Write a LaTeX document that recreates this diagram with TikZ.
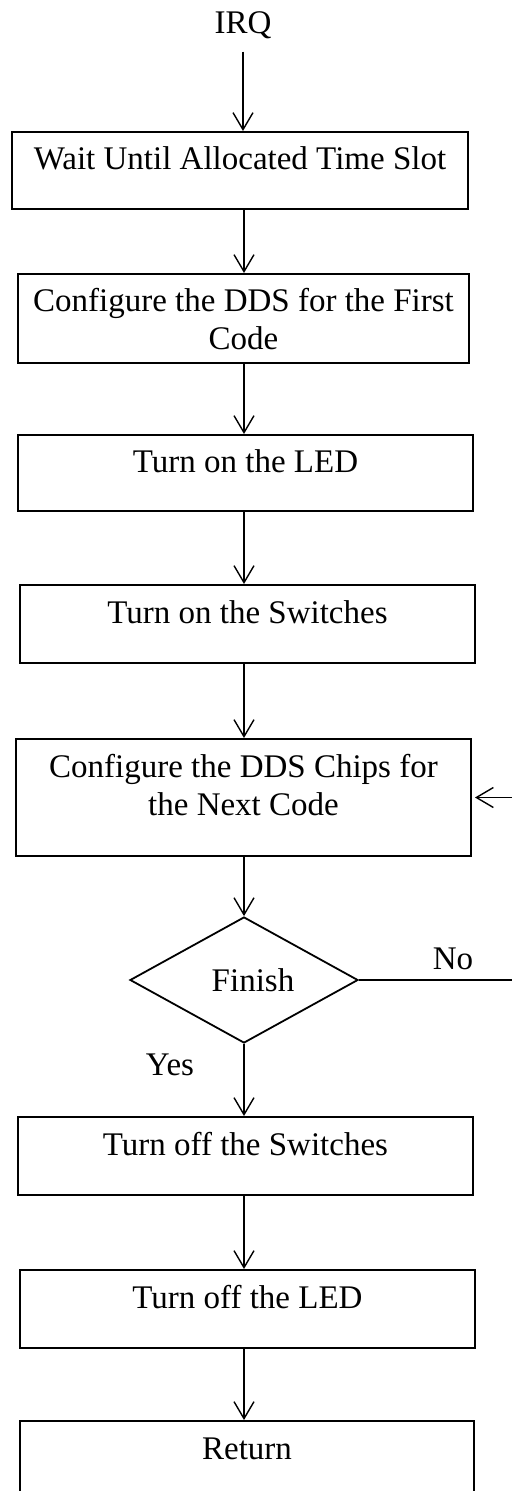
\documentclass[tikz,border=0pt]{standalone}
\usepackage{fontspec}
\setmainfont{Liberation Serif}
\usetikzlibrary{arrows.meta,shapes.geometric}

% box body: fixed width and height, text set from the top
\newcommand{\boxtext}[3]{\parbox[c][#2][t]{#1}{\centering\rule{0pt}{19pt}#3}}

\begin{document}
\begin{tikzpicture}[
  x=0.5pt, y=-0.5pt,
  every node/.style={font=\fontsize{16.5pt}{19pt}\selectfont},
  stepbox/.style={draw, line width=1pt, inner sep=0pt},
  decision/.style={draw, diamond, line width=0.9pt, inner sep=0pt,
                   minimum width=114pt, minimum height=63pt},
  tag/.style={inner sep=0pt, anchor=base},
  flow/.style={line width=0.7pt, -{Straight Barb[length=8.5pt, width=10pt, line width=0.7pt]}}
]
\useasboundingbox (0,0) rectangle (511,1491);

\coordinate (axis) at (244,0);
\coordinate (loop) at (516,0);

\node[tag] (irq) at (243,34) {IRQ};

\node[stepbox] (b1) at (240,170.5)  {\boxtext{228pt}{38.5pt}{Wait Until Allocated Time Slot}};
\node[stepbox] (b2) at (243.5,318.5) {\boxtext{225.5pt}{44.5pt}{Configure the DDS for the First\\Code}};
\node[stepbox] (b3) at (245.5,473)  {\boxtext{227.5pt}{38pt}{Turn on the LED}};
\node[stepbox] (b4) at (247.5,624)  {\boxtext{227.5pt}{39pt}{Turn on the Switches}};
\node[stepbox] (b5) at (243.5,797.5) {\boxtext{227.5pt}{58.5pt}{Configure the DDS Chips for\\the Next Code}};
\node[decision] (dec) at (244,980) {\hspace*{9pt}Finish};
\node[stepbox] (b6) at (245.5,1156) {\boxtext{227.5pt}{39pt}{Turn off the Switches}};
\node[stepbox] (b7) at (247.5,1309) {\boxtext{227.5pt}{39pt}{Turn off the LED}};
\node[stepbox] (b8) at (247,1460)   {\boxtext{227pt}{39pt}{Return}};

\node[tag] (no)  at (453,969)  {No};
\node[tag] (yes) at (170,1075) {Yes};

\draw[flow, shorten <=6pt] (irq.south) -- (irq.south |- b1.north);
\draw[flow] (b1.south -| axis) -- (b2.north -| axis);
\draw[flow] (b2.south -| axis) -- (b3.north -| axis);
\draw[flow] (b3.south -| axis) -- (b4.north -| axis);
\draw[flow] (b4.south -| axis) -- (b5.north -| axis);
\draw[flow] (b5.south -| axis) -- (dec.north);
\draw[flow] (dec.south) -- (dec.south |- b6.north);
\draw[flow] (b6.south -| axis) -- (b7.north -| axis);
\draw[flow] (b7.south -| axis) -- (b8.north -| axis);

% "No" branch returns to the configuration step
\draw[flow, shorten >=1.5pt] (dec.east) -- (dec.east -| loop) |- (b5.east);
\end{tikzpicture}
\end{document}
